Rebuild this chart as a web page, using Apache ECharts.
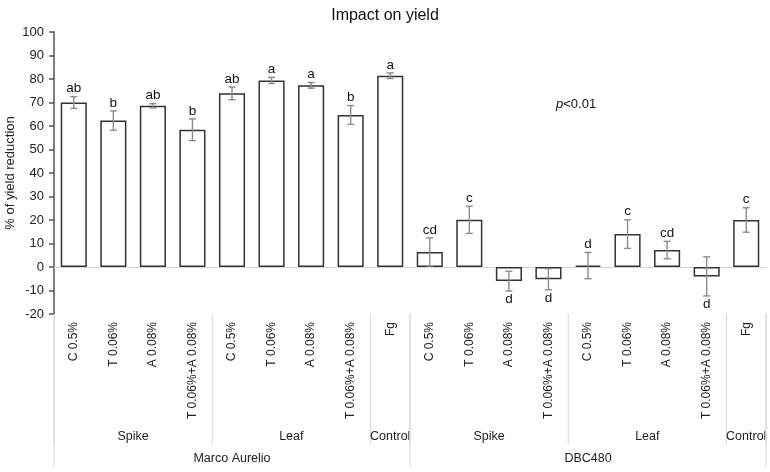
<!DOCTYPE html>
<html>
<head>
<meta charset="utf-8">
<script src="https://cdn.jsdelivr.net/npm/echarts@6/dist/echarts.min.js"></script>
<style>html,body{margin:0;padding:0;background:#fff}#c{width:770px;height:472px}</style>
</head>
<body>
<div id="c"></div>
<script>
const categories = ['C 0.5%','T 0.06%','A 0.08%','T 0.06%+A 0.08%','C 0.5%','T 0.06%','A 0.08%','T 0.06%+A 0.08%','Fg',
                    'C 0.5%','T 0.06%','A 0.08%','T 0.06%+A 0.08%','C 0.5%','T 0.06%','A 0.08%','T 0.06%+A 0.08%','Fg'];
const values  = [70.0, 62.3, 68.6, 58.4, 73.9, 79.4, 77.3, 64.7, 81.4, 6.4, 20.1, -6.0, -5.2, 0.6, 14.0, 7.2, -4.0, 20.0];
const errors  = [2.5, 4.1, 0.9, 4.6, 2.7, 1.3, 1.2, 4.0, 1.2, 6.0, 5.8, 4.2, 4.5, 5.6, 6.1, 3.7, 8.3, 5.2];
const letters = ['ab','b','ab','b','ab','a','a','b','a','cd','c','d','d','d','c','cd','d','c'];
const groupNames = ['Spike','Leaf','Control','Spike','Leaf','Control'];
const groupSpans = [4, 4, 1, 4, 4, 1];
const cultivars = ['Marco Aurelio','DBC480'];
const cultivarSpans = [9, 9];
const yTicks = {min: -20, max: 100, interval: 10};

const FONT = 'Liberation Sans, Arial, Helvetica, sans-serif';

// build group rows
const groupData = [];
let s = 0;
groupSpans.forEach((n, k) => { groupData.push([s, s + n - 1, 0, k]); s += n; });
s = 0;
cultivarSpans.forEach((n, k) => { groupData.push([s, s + n - 1, 1, k]); s += n; });

const errData = values.map((v, i) => [i, v, errors[i]]);

const chart = echarts.init(document.getElementById('c'), null, {renderer: 'canvas'});
chart.setOption({
  animation: false,
  backgroundColor: '#fff',
  title: [
    {text: 'Impact on yield', left: 'center', top: 3,
     textStyle: {fontFamily: FONT, fontSize: 16, fontWeight: 'normal', color: '#111'}},
    {text: '{i|p}<0.01', left: 551, top: 93,
     textStyle: {fontFamily: FONT, fontSize: 13, fontWeight: 'normal', color: '#111',
       rich: {i: {fontFamily: FONT, fontSize: 13, fontStyle: 'italic', color: '#111'}}}}
  ],
  grid: {left: 54, right: 4, top: 32, bottom: 158, containLabel: false, outerBoundsMode: 'none'},
  xAxis: [
    {type: 'category', data: categories, position: 'bottom',
     axisLine: {show: false, onZero: false}, axisTick: {show: false},
     axisLabel: {interval: 0, rotate: 90, margin: 8, fontFamily: FONT, fontSize: 12, color: '#222'},
     splitLine: {show: false}},
    {type: 'category', data: categories, position: 'bottom',
     axisLine: {show: true, onZero: true, lineStyle: {color: '#d4d4d4', width: 1}},
     axisTick: {show: false}, axisLabel: {show: false}, splitLine: {show: false}}
  ],
  yAxis: {
    type: 'value', min: yTicks.min, max: yTicks.max, interval: yTicks.interval,
    name: '% of yield reduction', nameLocation: 'middle', nameGap: 37, nameMoveOverlap: false,
    nameTextStyle: {fontFamily: FONT, fontSize: 13, color: '#222'},
    axisLine: {show: true, lineStyle: {color: '#555', width: 1.5}},
    axisTick: {show: true, length: 5, lineStyle: {color: '#555', width: 1.5}},
    axisLabel: {margin: 10, fontFamily: FONT, fontSize: 13, color: '#222'},
    splitLine: {show: false}
  },
  series: [
    {type: 'bar', xAxisIndex: 0, data: values, barWidth: '66%',
     itemStyle: {color: '#fff', borderColor: '#333', borderWidth: 1.5}, z: 2, silent: true},
    {type: 'custom', xAxisIndex: 0, data: errData, z: 4, silent: true, clip: false,
     encode: {x: 0, y: 1},
     renderItem: function (params, api) {
       const i = api.value(0), v = api.value(1), e = api.value(2);
       const hi = api.coord([i, v + e]), lo = api.coord([i, v - e]);
       const cap = 3.5, col = '#8c8c8c';
       const pos = v >= 0;
       return {type: 'group', children: [
         {type: 'line', shape: {x1: hi[0], y1: hi[1], x2: lo[0], y2: lo[1]}, style: {stroke: col, lineWidth: 1.4}},
         {type: 'line', shape: {x1: hi[0] - cap, y1: hi[1], x2: hi[0] + cap, y2: hi[1]}, style: {stroke: col, lineWidth: 1.4}},
         {type: 'line', shape: {x1: lo[0] - cap, y1: lo[1], x2: lo[0] + cap, y2: lo[1]}, style: {stroke: col, lineWidth: 1.4}},
         {type: 'text', x: hi[0], y: pos ? hi[1] - 1 : lo[1] + 1,
          style: {text: letters[params.dataIndex], align: 'center', verticalAlign: pos ? 'bottom' : 'top',
                  fontFamily: FONT, fontSize: 13.5, fill: '#111'}}
       ]};
     }},
    {type: 'custom', xAxisIndex: 0, data: groupData, z: 4, silent: true, clip: false,
     encode: {x: [0, 1]},
     renderItem: function (params, api) {
       const a = api.value(0), b = api.value(1), lvl = api.value(2), k = api.value(3);
       const bw = api.size([1, 0])[0];
       const p0 = api.coord([a, yTicks.min]), p1 = api.coord([b, yTicks.min]);
       const left = p0[0] - bw / 2, right = p1[0] + bw / 2, base = p0[1];
       const len = lvl === 0 ? 130 : 153;
       const col = '#d6d6d6';
       const ch = [
         {type: 'line', shape: {x1: left, y1: base, x2: left, y2: base + len}, style: {stroke: col, lineWidth: 1}},
         {type: 'text', x: (left + right) / 2, y: base + (lvl === 0 ? 123 : 145),
          style: {text: lvl === 0 ? groupNames[k] : cultivars[k], align: 'center', verticalAlign: 'middle',
                  fontFamily: FONT, fontSize: 12.5, fill: '#222'}}
       ];
       const lastIdx = lvl === 0 ? groupNames.length - 1 : cultivars.length - 1;
       if (k === lastIdx) {
         ch.push({type: 'line', shape: {x1: right, y1: base, x2: right, y2: base + len}, style: {stroke: col, lineWidth: 1}});
       }
       return {type: 'group', children: ch};
     }}
  ]
});
</script>
</body>
</html>
